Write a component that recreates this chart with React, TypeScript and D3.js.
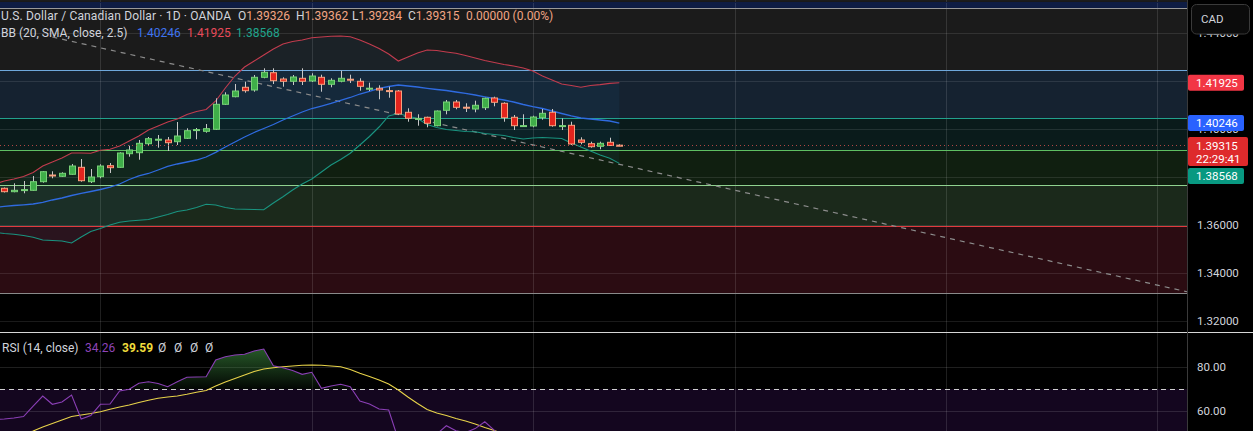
import * as d3 from 'd3';
import { useEffect } from 'react';

// USD/CAD daily bars, index 0 = leftmost bar on screen
const open = [1.37529, 1.37388, 1.37463, 1.37446, 1.37804, 1.38083, 1.38029, 1.38113, 1.38404, 1.37804, 1.38013, 1.38471, 1.38404, 1.38971, 1.39013, 1.39388, 1.39563, 1.39542, 1.39471, 1.39613, 1.39963, 1.39904, 1.39988, 1.41029, 1.41346, 1.41738, 1.41625, 1.42154, 1.42346, 1.42083, 1.41988, 1.42113, 1.42000, 1.42154, 1.41863, 1.41988, 1.42075, 1.41988, 1.41688, 1.41696, 1.41600, 1.41583, 1.40696, 1.40433, 1.40488, 1.40138, 1.40779, 1.41125, 1.40908, 1.40833, 1.40888, 1.41292, 1.41071, 1.40488, 1.40133, 1.40125, 1.40471, 1.40696, 1.40133, 1.40154, 1.39542, 1.39388, 1.39279, 1.39446, 1.39326];
const high = [1.37563, 1.37738, 1.37833, 1.38042, 1.38250, 1.38238, 1.38196, 1.38542, 1.38750, 1.38333, 1.38529, 1.38583, 1.39029, 1.39304, 1.39542, 1.39667, 1.39750, 1.39667, 1.40292, 1.40029, 1.40042, 1.40208, 1.41279, 1.41529, 1.41875, 1.41971, 1.42250, 1.42529, 1.42529, 1.42154, 1.42250, 1.42529, 1.42321, 1.42263, 1.42113, 1.42429, 1.42263, 1.42113, 1.41929, 1.41821, 1.41763, 1.41625, 1.40863, 1.40613, 1.40513, 1.40771, 1.41208, 1.41208, 1.41071, 1.41179, 1.41304, 1.41346, 1.41113, 1.40583, 1.40613, 1.40554, 1.40833, 1.40833, 1.40442, 1.40304, 1.39654, 1.39471, 1.39471, 1.39638, 1.39362];
const low = [1.37354, 1.37363, 1.37321, 1.37429, 1.37763, 1.37946, 1.38000, 1.38096, 1.37804, 1.37750, 1.37946, 1.38167, 1.38388, 1.38846, 1.38721, 1.39304, 1.39221, 1.39083, 1.39333, 1.39583, 1.39571, 1.39846, 1.39958, 1.41000, 1.41321, 1.41513, 1.41554, 1.42113, 1.41875, 1.41763, 1.41833, 1.41833, 1.41958, 1.41554, 1.41738, 1.41946, 1.41917, 1.41596, 1.41583, 1.41238, 1.41304, 1.40583, 1.40304, 1.40138, 1.40071, 1.40113, 1.40613, 1.40821, 1.40708, 1.40696, 1.40792, 1.40946, 1.40304, 1.39958, 1.40113, 1.40071, 1.40388, 1.40096, 1.39958, 1.39333, 1.39363, 1.39221, 1.39154, 1.39292, 1.39284];
const close = [1.37388, 1.37446, 1.37475, 1.37804, 1.38221, 1.38058, 1.38154, 1.38458, 1.37846, 1.38000, 1.38458, 1.38388, 1.39000, 1.39125, 1.39404, 1.39596, 1.39575, 1.39429, 1.39708, 1.39929, 1.39975, 1.40013, 1.41029, 1.41417, 1.41583, 1.41596, 1.42154, 1.42363, 1.42013, 1.41988, 1.42167, 1.41988, 1.42208, 1.41863, 1.42029, 1.42113, 1.42063, 1.41779, 1.41700, 1.41625, 1.41592, 1.40625, 1.40446, 1.40442, 1.40238, 1.40750, 1.41125, 1.40904, 1.40900, 1.40988, 1.41279, 1.41113, 1.40471, 1.40138, 1.40142, 1.40500, 1.40654, 1.40138, 1.40142, 1.39375, 1.39446, 1.39263, 1.39404, 1.39315, 1.39315];

// Bollinger bands (20, 2.5); first value is the bar just left of the screen
const bbUpper = [1.37708, 1.37833, 1.37917, 1.38021, 1.38188, 1.38458, 1.38625, 1.38792, 1.39000, 1.39000, 1.38988, 1.39113, 1.39154, 1.39292, 1.39500, 1.39708, 1.39958, 1.40125, 1.40292, 1.40417, 1.40604, 1.40729, 1.40813, 1.41167, 1.41708, 1.42208, 1.42583, 1.42833, 1.43083, 1.43333, 1.43542, 1.43646, 1.43708, 1.43804, 1.43833, 1.43863, 1.43875, 1.43846, 1.43708, 1.43542, 1.43354, 1.43125, 1.42833, 1.43000, 1.43167, 1.43292, 1.43271, 1.43208, 1.43154, 1.43063, 1.42958, 1.42854, 1.42771, 1.42688, 1.42625, 1.42542, 1.42417, 1.42208, 1.42042, 1.41875, 1.41813, 1.41738, 1.41813, 1.41850, 1.41900, 1.41925];
const bbBasis = [1.36729, 1.36779, 1.36813, 1.36842, 1.36875, 1.36946, 1.37042, 1.37125, 1.37229, 1.37321, 1.37396, 1.37479, 1.37583, 1.37708, 1.37896, 1.38042, 1.38146, 1.38292, 1.38438, 1.38542, 1.38625, 1.38708, 1.38833, 1.39029, 1.39250, 1.39458, 1.39667, 1.39854, 1.40021, 1.40188, 1.40375, 1.40542, 1.40708, 1.40854, 1.40958, 1.41063, 1.41188, 1.41313, 1.41458, 1.41571, 1.41688, 1.41771, 1.41833, 1.41792, 1.41750, 1.41696, 1.41646, 1.41604, 1.41542, 1.41488, 1.41417, 1.41342, 1.41271, 1.41208, 1.41125, 1.41021, 1.40929, 1.40854, 1.40750, 1.40646, 1.40542, 1.40458, 1.40417, 1.40375, 1.40333, 1.40246];
const bbLower = [1.35688, 1.35646, 1.35613, 1.35563, 1.35488, 1.35375, 1.35354, 1.35333, 1.35250, 1.35500, 1.35729, 1.35854, 1.36000, 1.36113, 1.36167, 1.36196, 1.36229, 1.36333, 1.36438, 1.36563, 1.36625, 1.36729, 1.36863, 1.36833, 1.36729, 1.36667, 1.36654, 1.36646, 1.36638, 1.36917, 1.37179, 1.37458, 1.37708, 1.37917, 1.38208, 1.38500, 1.38729, 1.38988, 1.39333, 1.39688, 1.40083, 1.40542, 1.40646, 1.40542, 1.40438, 1.40188, 1.40063, 1.39979, 1.39938, 1.39896, 1.39883, 1.39813, 1.39771, 1.39729, 1.39646, 1.39583, 1.39625, 1.39646, 1.39625, 1.39604, 1.39417, 1.39250, 1.39083, 1.38917, 1.38779, 1.38568];

// RSI (14) and its moving average, same offset as the bands
const rsi = [56.14, 56.36, 56.82, 57.5, 62.27, 66.82, 63.05, 64.09, 67.27, 56.36, 57.95, 63.05, 63.18, 69.09, 69.86, 72.59, 73.32, 72.5, 71.05, 73.32, 75.32, 75.45, 75.59, 83.18, 84.68, 85.45, 85.77, 87.27, 88.18, 80.59, 79.68, 78.41, 76.68, 77.59, 70.32, 71.36, 72.14, 71.05, 64.55, 63.18, 60.91, 60.45, 47.0, 44.0, 44.5, 42.8, 49.5, 53.3, 51.0, 50.2, 52.0, 55.1, 51.2, 45.5, 42.5, 42.8, 46.0, 47.6, 41.8, 42.0, 35.0, 34.6, 33.4, 35.2, 34.4, 34.26];
const rsiMa = [45.5, 46.8, 48.2, 49.5, 50.9, 52.73, 54.32, 55.91, 57.5, 58.18, 58.86, 59.68, 60.77, 61.82, 62.73, 63.86, 64.86, 65.82, 66.36, 66.82, 67.59, 68.5, 69.32, 71.36, 73.18, 74.77, 76.36, 77.95, 79.09, 79.68, 80.14, 80.45, 80.77, 80.91, 80.77, 80.45, 80.14, 78.86, 77.14, 75.68, 74.09, 72.27, 69.55, 66.36, 63.41, 60.68, 59.09, 57.95, 56.59, 55.45, 54.09, 52.5, 51.14, 49.5, 47.8, 46.5, 45.5, 44.8, 44.0, 43.2, 42.3, 41.5, 40.8, 40.3, 39.9, 39.59];

const monthStarts = [10, 32, 55, 76, 98, 120];
const priceTicks = [1.32, 1.34, 1.36, 1.38, 1.40, 1.42, 1.44];
const rsiTicks = [60, 80];
// user drawn horizontal levels, top to bottom (zones lie between them)
const levels = [1.45292, 1.45042, 1.42458, 1.40458, 1.39125, 1.37667, 1.35958, 1.33167];
const trendBars = [5, 124];
const trendPrices = [1.43833, 1.33135];
const countdown = '22:29:41';

const W = 1253;
const H = 431;
const AXIS_X = 1187;
const PANE_Y = 332;
const FONT = 'Roboto, "Noto Sans", sans-serif';

const levelColors = ['#0f1d44', '#9a9a9a', '#6ea8dc', '#22a18c', '#5fbf63', '#90d290', '#e03a3e', '#8a8a8a'];
const zoneFills = ['#1c1c1c', '#0f1d44', '#1b1b1b', '#152230', '#0a1b1b', '#101f10', '#1b291b', '#2b0c12'];
const upCol = { body: '#3fae49', border: '#78d278' };
const downCol = { body: '#e3241d', border: '#f7a07e' };

export default function App() {
    useEffect(() => {
        document.body.style.margin = '0';
        document.body.style.background = '#000';
    }, []);

    const x = d3.scaleLinear().domain([-0.447, 123.07]).range([0, AXIS_X]);
    const y = d3.scaleLinear().domain([1.315417, 1.45375]).range([PANE_Y, 0]);
    const yr = d3.scaleLinear().domain([60, 80]).range([411, 367]);

    // band / rsi arrays start one bar before the screen
    const bx = (_: number, k: number) => x(k - 1);
    const bandLine = d3.line<number>().x(bx).y(v => y(v));
    const bandFill = d3.area<number>().x(bx).y0((_, k) => y(bbLower[k])).y1(v => y(v));
    const rsiLine = d3.line<number>().x(bx).y(v => yr(v));
    const rsiOver = d3.area<number>().x(bx).y0(yr(70)).y1(v => yr(Math.max(70, v)));

    const last = close.length - 1;
    const lastBand = bbUpper.length - 1;
    const change = close[last] - close[last - 1];

    const curTop = y(close[last]) - 8.5;
    const curBottom = curTop + 29;
    const tags = [
        { v: bbUpper[lastBand], top: y(bbUpper[lastBand]) - 8, fill: '#f23645' },
        { v: bbBasis[lastBand], top: y(bbBasis[lastBand]) - 8, fill: '#2962ff' },
        { v: bbLower[lastBand], top: Math.max(y(bbLower[lastBand]) - 8, curBottom + 2), fill: '#089981' },
    ];

    const zoneBounds = [0, ...levels.map(l => y(l))];

    const ohlcVals = [open[last], high[last], low[last], close[last]];
    const ohlcX = [238, 296, 352, 408];

    return (
        <svg width={W} height={H} style={{ display: 'block', background: '#000', fontFamily: FONT }}>
            <defs>
                <clipPath id="mainClip"><rect x={0} y={0} width={AXIS_X} height={PANE_Y} /></clipPath>
                <clipPath id="rsiClip"><rect x={0} y={PANE_Y + 1} width={AXIS_X} height={H - PANE_Y} /></clipPath>
                <linearGradient id="obGrad" gradientUnits="userSpaceOnUse" x1={0} x2={0} y1={yr(100)} y2={yr(70)}>
                    <stop offset="0" stopColor="#4caf50" stopOpacity={0.8} />
                    <stop offset="1" stopColor="#4caf50" stopOpacity={0.04} />
                </linearGradient>
            </defs>

            {/* main pane */}
            <g clipPath="url(#mainClip)">
                {zoneFills.map((f, k) => (
                    <rect key={k} x={0} y={zoneBounds[k]} width={AXIS_X} height={zoneBounds[k + 1] - zoneBounds[k]} fill={f} />
                ))}
                {priceTicks.map(t => (
                    <line key={t} x1={0} x2={AXIS_X} y1={Math.round(y(t)) + 0.5} y2={Math.round(y(t)) + 0.5} stroke="rgba(255,255,255,0.1)" />
                ))}
                {monthStarts.map(m => (
                    <line key={m} x1={Math.round(x(m)) + 0.5} x2={Math.round(x(m)) + 0.5} y1={0} y2={PANE_Y} stroke="rgba(255,255,255,0.12)" />
                ))}
                <path d={bandFill(bbUpper) as string} fill="rgba(33,150,243,0.06)" />
                {levels.map((l, k) => (
                    <line key={l} x1={0} x2={AXIS_X} y1={Math.round(y(l)) + 0.5} y2={Math.round(y(l)) + 0.5} stroke={levelColors[k]} strokeWidth={1.2} />
                ))}
                <line x1={x(trendBars[0])} y1={y(trendPrices[0])} x2={x(trendBars[1])} y2={y(trendPrices[1])}
                    stroke="#8c8c8c" strokeWidth={1.2} strokeDasharray="5 5" />
                <path d={bandLine(bbUpper) as string} fill="none" stroke="#c23c4e" strokeWidth={1.1} />
                <path d={bandLine(bbLower) as string} fill="none" stroke="#1a9480" strokeWidth={1.1} />
                <path d={bandLine(bbBasis) as string} fill="none" stroke="#2f6be0" strokeWidth={1.3} />
                {open.map((o, i) => {
                    const c = close[i];
                    const col = c >= o ? upCol : downCol;
                    const cx = Math.round(x(i)) + 0.5;
                    const top = y(Math.max(o, c));
                    const h = Math.max(1, y(Math.min(o, c)) - top);
                    return (
                        <g key={i}>
                            <line x1={cx} x2={cx} y1={y(high[i])} y2={y(low[i])} stroke="#c8c8c8" />
                            <rect x={cx - 3} y={top} width={6} height={h} fill={col.body} stroke={col.border} />
                        </g>
                    );
                })}
                <line x1={0} x2={AXIS_X} y1={Math.round(y(close[last])) + 0.5} y2={Math.round(y(close[last])) + 0.5}
                    stroke="#d9534f" strokeOpacity={0.8} strokeDasharray="1 3" />
            </g>

            {/* rsi pane */}
            <g clipPath="url(#rsiClip)">
                <rect x={0} y={yr(70)} width={AXIS_X} height={H - yr(70)} fill="#14061f" />
                {rsiTicks.map(t => (
                    <line key={t} x1={0} x2={AXIS_X} y1={Math.round(yr(t)) + 0.5} y2={Math.round(yr(t)) + 0.5} stroke="rgba(255,255,255,0.12)" />
                ))}
                {monthStarts.map(m => (
                    <line key={m} x1={Math.round(x(m)) + 0.5} x2={Math.round(x(m)) + 0.5} y1={PANE_Y} y2={H} stroke="rgba(255,255,255,0.12)" />
                ))}
                <line x1={0} x2={AXIS_X} y1={Math.round(yr(70)) + 0.5} y2={Math.round(yr(70)) + 0.5} stroke="#cfcfcf" strokeDasharray="5 4" />
                <path d={rsiOver(rsi) as string} fill="url(#obGrad)" />
                <path d={rsiLine(rsiMa) as string} fill="none" stroke="#e8d34a" strokeWidth={1.1} />
                <path d={rsiLine(rsi) as string} fill="none" stroke="#8a3fb5" strokeWidth={1.1} />
            </g>

            {/* separators */}
            <line x1={0} x2={W} y1={PANE_Y + 0.5} y2={PANE_Y + 0.5} stroke="#d6d6d6" />
            <line x1={AXIS_X + 0.5} x2={AXIS_X + 0.5} y1={0} y2={H} stroke="#3a3a3a" />

            {/* legends */}
            <g fontSize={12} dominantBaseline="central">
                <text x={1} y={16} fill="#d1d4dc" textLength={230} lengthAdjust="spacing">U.S. Dollar / Canadian Dollar · 1D · OANDA</text>
                {['O', 'H', 'L', 'C'].map((lab, k) => (
                    <text key={lab} x={ohlcX[k]} y={16}>
                        <tspan fill="#d1d4dc">{lab}</tspan>
                        <tspan fill="#f2a584">{ohlcVals[k].toFixed(5)}</tspan>
                    </text>
                ))}
                <text x={466} y={16} fill="#f2a584">
                    {change.toFixed(5)} ({(change / close[last - 1] * 100).toFixed(2)}%)
                </text>
                <text x={1} y={33} fill="#d1d4dc">BB (20, SMA, close, 2.5)</text>
                <text x={137} y={33} fill="#3f74f0">{bbBasis[lastBand].toFixed(5)}</text>
                <text x={187} y={33} fill="#e84a5a">{bbUpper[lastBand].toFixed(5)}</text>
                <text x={236} y={33} fill="#1fa58d">{bbLower[lastBand].toFixed(5)}</text>

                <text x={2} y={348} fill="#d1d4dc">RSI (14, close)</text>
                <text x={85} y={348} fill="#8e44b8">{rsi[rsi.length - 1].toFixed(2)}</text>
                <text x={122} y={348} fill="#f0dc3c" fontWeight="bold">{rsiMa[rsiMa.length - 1].toFixed(2)}</text>
                {[158, 174, 190, 205].map(px => (
                    <text key={px} x={px} y={348} fill="#d1d4dc">Ø</text>
                ))}
            </g>

            {/* price axis */}
            <g fontSize={11.5} dominantBaseline="central" fill="#d1d4dc">
                {priceTicks.map(t => (
                    <text key={t} x={1197} y={y(t)}>{t.toFixed(5)}</text>
                ))}
                {rsiTicks.map(t => (
                    <text key={t} x={1197} y={yr(t)}>{t.toFixed(2)}</text>
                ))}
                {tags.map(tg => (
                    <g key={tg.fill}>
                        <rect x={AXIS_X + 1} y={tg.top} width={56} height={16} rx={2} fill={tg.fill} />
                        <text x={1196} y={tg.top + 8} fill="#fff">{tg.v.toFixed(5)}</text>
                    </g>
                ))}
                <rect x={AXIS_X + 1} y={curTop} width={60} height={29} rx={2} fill="#de2a2c" />
                <text x={1196} y={curTop + 9} fill="#fff">{close[last].toFixed(5)}</text>
                <text x={1196} y={curTop + 22} fill="#fff">{countdown}</text>
                <rect x={1191.5} y={4.5} width={58} height={29.5} rx={5} fill="#0b0b0b" stroke="#3a3a3a" />
                <text x={1201} y={18.5}>CAD</text>
            </g>
        </svg>
    );
}
